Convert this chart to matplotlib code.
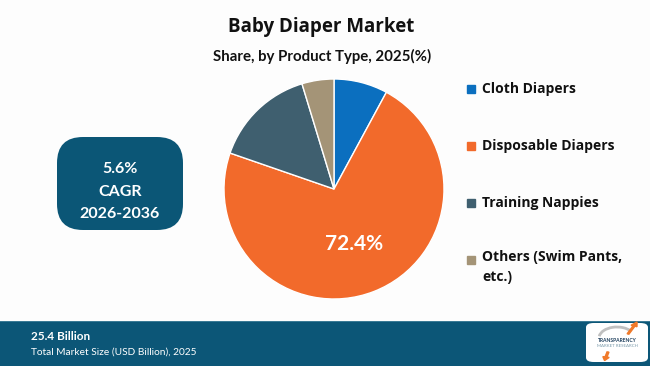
import matplotlib.pyplot as plt
from matplotlib.patches import FancyBboxPatch, Rectangle, Arc, FancyArrow

# data
segments = ['Cloth Diapers', 'Disposable Diapers', 'Training Nappies', 'Others (Swim Pants,\netc.)']
shares = [7.9, 72.4, 15.0, 4.7]
colors = ['#0B6FBF', '#F26A2B', '#3F5F6F', '#A49477']
title = 'Baby Diaper Market'
subtitle = 'Share, by Product Type, 2025(%)'
cagr_lines = ['5.6%', 'CAGR', '2026-2036']
market_size = '25.4 Billion'
market_label = 'Total Market Size (USD Billion), 2025'

W, H = 650, 366
fig = plt.figure(figsize=(6.5, 3.66), dpi=100)
fig.patch.set_facecolor('#FDFDFD')

def fx(px):
    return px / W

def fy(py):
    return 1 - py / H

# title
fig.text(fx(321), fy(27), title, ha='center', va='center', fontsize=13.5,
         fontweight='bold', family='Open Sans', color='#111111')
fig.text(fx(322), fy(56), subtitle, ha='center', va='center', fontsize=10.8,
         fontweight='bold', family='Lato', color='#111111')

# pie
r = 110
ax = fig.add_axes([fx(334 - r), fy(189 + r), 2 * r / W, 2 * r / H])
wedges, _ = ax.pie(shares, colors=colors, startangle=90, counterclock=False,
                   wedgeprops=dict(edgecolor='white', linewidth=1))
ax.set_xlim(-1, 1)
ax.set_ylim(-1, 1)
ax.set_aspect('equal')
ax.text(0.18, -0.5, '72.4%', ha='center', va='center', color='white',
        fontsize=15, fontweight='bold', family='Lato')

# legend
ys = [89, 146, 203, 260]
for name, c, y in zip(segments, colors, ys):
    fig.patches.append(Rectangle((fx(467), fy(y + 4)), 8 / W, 8 / H,
                                 transform=fig.transFigure, color=c))
    t = fig.text(fx(482), fy(y), name, ha='left', va='center',
                 fontsize=10, fontweight='bold', family='Open Sans', color='#111111',
                 linespacing=1.55)
    if '\n' in name:
        t.set_va('top')
        t.set_position((fx(482), fy(250)))

# CAGR box
box = FancyBboxPatch((fx(57), fy(230)), 126 / W, 93 / H,
                     boxstyle='round,pad=0,rounding_size=0.04',
                     transform=fig.transFigure, facecolor='#0B5676', edgecolor='none',
                     mutation_aspect=W / H)
fig.patches.append(box)
for txt, y in zip(cagr_lines, [169, 192, 214]):
    fig.text(fx(120), fy(y), txt, ha='center', va='center', color='white',
             fontsize=11.5, fontweight='bold', family='Lato')

# footer
fig.patches.append(Rectangle((0, 0), 1, 45 / H, transform=fig.transFigure,
                             facecolor='#0C5677', edgecolor='none'))
fig.patches.append(Rectangle((0, 44 / H), 1, 1.5 / H, transform=fig.transFigure,
                             facecolor='#3B7A95', edgecolor='none'))
fig.text(fx(31), fy(336), market_size, ha='left', va='center', color='white',
         fontsize=8.5, fontweight='bold', family='Lato')
fig.text(fx(31), fy(352), market_label, ha='left', va='center', color='white',
         fontsize=7.3, family='Lato')

# logo
logo = FancyBboxPatch((fx(586), fy(362)), 62 / W, 39 / H,
                      boxstyle='round,pad=0,rounding_size=0.012',
                      transform=fig.transFigure, facecolor='white', edgecolor='none')
fig.patches.append(logo)
fig.patches.append(Arc((fx(617), fy(338)), 36 / W, 22 / H, theta1=40, theta2=170,
                       transform=fig.transFigure, color='#C0C0C0', linewidth=2))
fig.patches.append(FancyArrow(fx(628), fy(334), 6 / W, 8 / H, width=0.003,
                              head_width=0.01, head_length=0.012,
                              transform=fig.transFigure, color='#F07A2A'))
fig.patches.append(FancyArrow(fx(608), fy(352), -2 / W, -5 / H, width=0.003,
                              head_width=0.01, head_length=0.01,
                              transform=fig.transFigure, color='#F07A2A'))
fig.text(fx(617), fy(341), 'TRANSPARENCY', ha='center', va='center',
         fontsize=3.6, fontweight='bold', color='#1D3E5C', family='Lato')
fig.text(fx(617), fy(346), 'MARKET RESEARCH', ha='center', va='center',
         fontsize=3.2, color='#7A9AAA', family='Lato')

fig.savefig('out.png', dpi=100, facecolor=fig.get_facecolor())
